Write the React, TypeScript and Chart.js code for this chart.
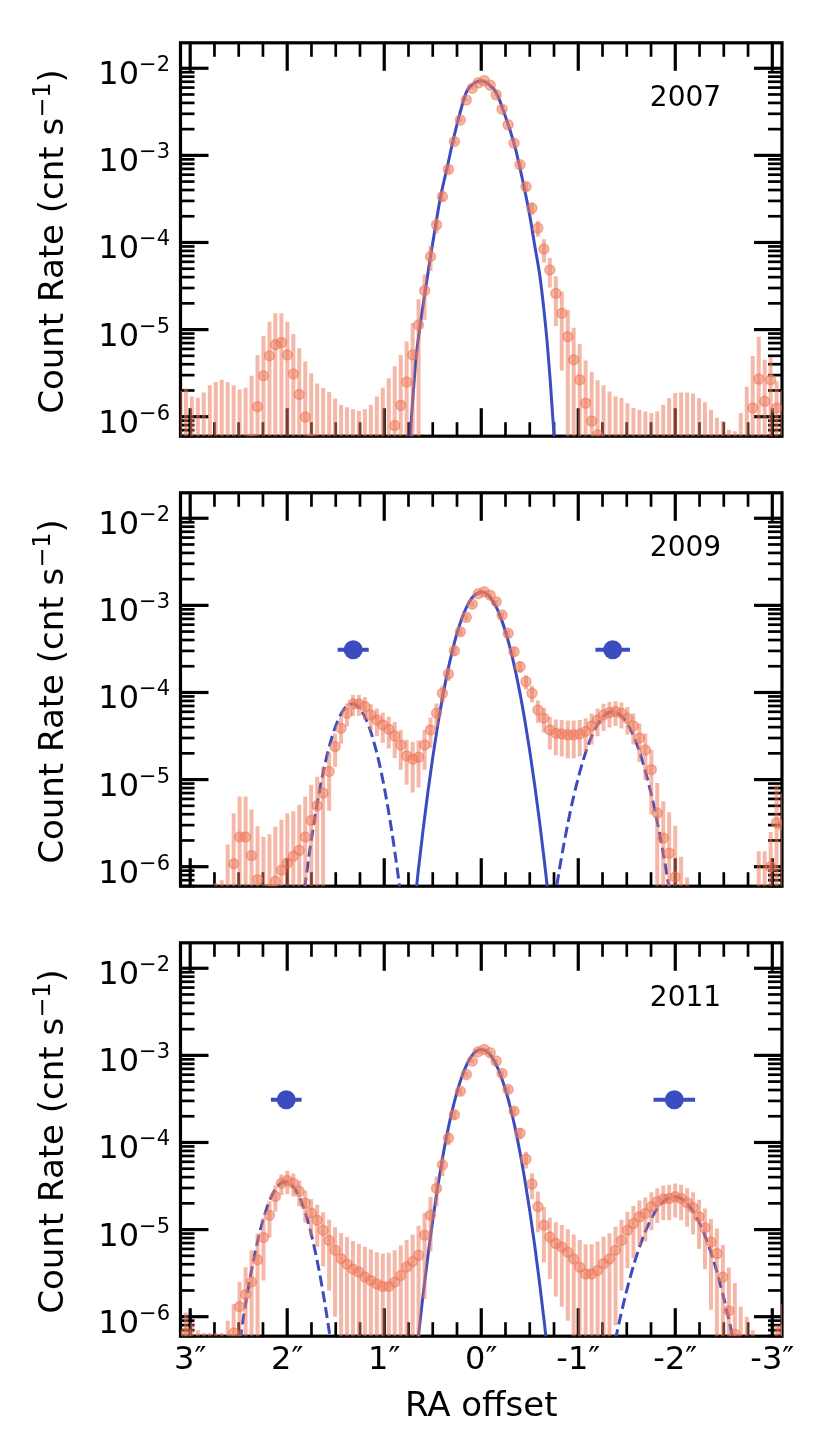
import React, { useEffect, useRef } from "react";
import { Chart, registerables } from "chart.js";

Chart.register(...registerables);

// bin centres of the radial profile (arcsec, RA offset)
const OFFSETS = [
  3.106, 3.044, 2.983, 2.921, 2.86, 2.798, 2.737, 2.675, 2.614, 2.552,
  2.491, 2.429, 2.368, 2.306, 2.245, 2.183, 2.122, 2.06, 1.999, 1.937,
  1.876, 1.814, 1.753, 1.691, 1.63, 1.568, 1.507, 1.445, 1.384, 1.322,
  1.261, 1.199, 1.138, 1.076, 1.015, 0.953, 0.892, 0.83, 0.769, 0.707,
  0.646, 0.584, 0.523, 0.461, 0.4, 0.338, 0.277, 0.215, 0.154, 0.092,
  0.031, -0.031, -0.092, -0.154, -0.215, -0.277, -0.338, -0.4, -0.461, -0.523,
  -0.584, -0.646, -0.707, -0.769, -0.83, -0.892, -0.953, -1.015, -1.076, -1.138,
  -1.199, -1.261, -1.322, -1.384, -1.445, -1.507, -1.568, -1.63, -1.691, -1.753,
  -1.814, -1.876, -1.937, -1.999, -2.06, -2.122, -2.183, -2.245, -2.306, -2.368,
  -2.429, -2.491, -2.552, -2.614, -2.675, -2.737, -2.798, -2.86, -2.921, -2.983,
  -3.044, -3.106,
];

// count rates (cnt/s) and 1-sigma errors per bin
const RATE_2007 = [
  0, 0, 0, 0, 0, 0, 0, 0, 0, 0,
  0, 0, 5.5e-7, 1.3e-6, 2.95e-6, 5.0e-6, 6.7e-6, 7.1e-6, 5.1e-6, 3.1e-6,
  1.8e-6, 9.9e-7, 5.5e-7, 0, 0, 0, 0, 0, 0, 0,
  0, 0, 0, 0, 0, 0, 7.9e-7, 1.35e-6, 2.5e-6, 5.1e-6,
  1.13e-5, 2.8e-5, 6.9e-5, 1.59e-4, 3.37e-4, 6.9e-4, 1.44e-3, 2.55e-3, 4.33e-3, 5.9e-3,
  6.8e-3, 7.2e-3, 6.4e-3, 4.95e-3, 3.39e-3, 2.24e-3, 1.38e-3, 7.8e-4, 4.37e-4, 2.47e-4,
  1.46e-4, 8.4e-5, 4.84e-5, 2.6e-5, 1.54e-5, 8.3e-6, 4.5e-6, 2.65e-6, 1.43e-6, 8.9e-7,
  6.2e-7, 0, 0, 0, 0, 0, 0, 0, 0, 0,
  0, 0, 0, 0, 0, 0, 0, 0, 0, 0,
  0, 0, 0, 0, 0, 0, 1.26e-6, 2.7e-6, 1.5e-6, 2.65e-6,
  1.26e-6, 0,
];
const ERR_2007 = [
  2.0e-6, 2.1e-6, 1.7e-6, 1.65e-6, 1.9e-6, 2.3e-6, 2.5e-6, 2.65e-6, 2.5e-6, 2.3e-6,
  2.05e-6, 2.15e-6, 2.4e-6, 3.8e-6, 5.5e-6, 7.3e-6, 8.7e-6, 8.3e-6, 7.2e-6, 5.8e-6,
  4.3e-6, 3.3e-6, 2.6e-6, 2.4e-6, 2.13e-6, 1.92e-6, 1.62e-6, 1.36e-6, 1.28e-6, 1.22e-6,
  1.17e-6, 1.22e-6, 1.37e-6, 1.71e-6, 2.15e-6, 2.77e-6, 3.0e-6, 3.75e-6, 4.8e-6, 6.8e-6,
  1.1e-5, 1.5e-5, 2.2e-5, 3.2e-5, 4.6e-5, 6.5e-5, 9e-5, 1.2e-4, 1.6e-4, 1.9e-4,
  2.0e-4, 2.1e-4, 2.0e-4, 1.75e-4, 1.45e-4, 1.2e-4, 9.5e-5, 7e-5, 5.3e-5, 4e-5,
  3e-5, 2.5e-5, 1.8e-5, 1.5e-5, 1.2e-5, 8.5e-6, 6e-6, 4.2e-6, 3e-6, 2.4e-6,
  2.0e-6, 2.3e-6, 1.95e-6, 1.71e-6, 1.64e-6, 1.43e-6, 1.26e-6, 1.2e-6, 1.15e-6, 1.1e-6,
  1.15e-6, 1.37e-6, 1.64e-6, 1.87e-6, 1.9e-6, 1.9e-6, 1.84e-6, 1.64e-6, 1.46e-6, 1.2e-6,
  9.7e-7, 8.9e-7, 7.1e-7, 6.8e-7, 1.1e-6, 2.2e-6, 3.7e-6, 5.6e-6, 3.0e-6, 2.2e-6,
  1.3e-6, 2.0e-6,
];

const RATE_2009 = [
  0, 0, 0, 0, 0, 0, 0, 0, 0, 1.08e-6,
  2.19e-6, 2.19e-6, 1.34e-6, 7.1e-7, 0, 5.5e-7, 6.8e-7, 9.1e-7, 1.1e-6, 1.32e-6,
  1.54e-6, 2.19e-6, 3.4e-6, 5.0e-6, 7.0e-6, 1.24e-5, 2.39e-5, 3.88e-5, 5.77e-5, 7.38e-5,
  7.38e-5, 6.89e-5, 5.52e-5, 4.84e-5, 4.24e-5, 3.78e-5, 3.17e-5, 2.5e-5, 1.87e-5, 1.71e-5,
  1.81e-5, 2.5e-5, 3.72e-5, 5.77e-5, 9.77e-5, 1.63e-4, 3.01e-4, 4.98e-4, 7.28e-4, 1.03e-3,
  1.36e-3, 1.43e-3, 1.31e-3, 1.1e-3, 7.73e-4, 4.77e-4, 2.94e-4, 1.98e-4, 1.33e-4, 9.8e-5,
  6.3e-5, 5.06e-5, 3.72e-5, 3.4e-5, 3.34e-5, 3.26e-5, 3.26e-5, 3.34e-5, 3.56e-5, 4.13e-5,
  4.84e-5, 5.52e-5, 5.87e-5, 6.03e-5, 5.77e-5, 5.06e-5, 4.13e-5, 2.99e-5, 2.19e-5, 1.3e-5,
  4.12e-6, 2.13e-6, 1.43e-6, 7.6e-7, 0, 0, 0, 0, 0, 0,
  0, 0, 0, 0, 0, 0, 0, 0, 0, 1.0e-6,
  3.2e-6, 3.0e-6,
];
const ERR_2009 = [
  4e-7, 4e-7, 4e-7, 5e-7, 4e-7, 5e-7, 6.5e-7, 7e-7, 1.8e-6, 3.0e-6,
  4.2e-6, 4.2e-6, 3.2e-6, 2.2e-6, 2.2e-6, 1.8e-6, 2.2e-6, 2.55e-6, 3.0e-6, 3.0e-6,
  3.6e-6, 4.2e-6, 5.3e-6, 5.8e-6, 7e-6, 8e-6, 1.0e-5, 1.3e-5, 1.7e-5, 2.0e-5,
  2.0e-5, 2.0e-5, 1.8e-5, 1.7e-5, 1.6e-5, 1.5e-5, 1.4e-5, 1.2e-5, 1.0e-5, 1.0e-5,
  1.0e-5, 1.2e-5, 1.4e-5, 1.7e-5, 2.2e-5, 2.8e-5, 3.8e-5, 4.8e-5, 5.8e-5, 7e-5,
  7.5e-5, 8e-5, 7.5e-5, 7e-5, 5.8e-5, 4.5e-5, 3.6e-5, 3e-5, 2.5e-5, 2.1e-5,
  1.8e-5, 1.6e-5, 1.5e-5, 1.5e-5, 1.5e-5, 1.5e-5, 1.5e-5, 1.5e-5, 1.5e-5, 1.6e-5,
  1.7e-5, 1.9e-5, 1.9e-5, 1.9e-5, 1.9e-5, 1.8e-5, 1.6e-5, 1.4e-5, 1.2e-5, 9e-6,
  5e-6, 3.5e-6, 2.8e-6, 2.2e-6, 1.3e-6, 7.5e-7, 4e-7, 4e-7, 4e-7, 4e-7,
  4e-7, 4e-7, 4e-7, 4e-7, 4e-7, 4e-7, 4e-7, 1.5e-6, 1.5e-6, 1.5e-6,
  5.5e-6, 4e-6,
];

const RATE_2011 = [
  0, 6.5e-7, 0, 0, 0, 0, 0, 0, 0, 6.5e-7,
  1.3e-6, 1.8e-6, 2.5e-6, 4.5e-6, 8.1e-6, 1.46e-5, 2.4e-5, 3.4e-5, 3.65e-5, 3.4e-5,
  2.75e-5, 2.0e-5, 1.55e-5, 1.28e-5, 9.8e-6, 7.5e-6, 5.8e-6, 4.63e-6, 4.0e-6, 3.5e-6,
  3.25e-6, 2.85e-6, 2.6e-6, 2.38e-6, 2.22e-6, 2.22e-6, 2.49e-6, 2.97e-6, 3.71e-6, 4.3e-6,
  5.06e-6, 8.6e-6, 1.46e-5, 2.97e-5, 5.52e-5, 1.12e-4, 2.08e-4, 3.87e-4, 6.04e-4, 8.6e-4,
  1.1e-3, 1.17e-3, 1.07e-3, 8.6e-4, 6.2e-4, 4.05e-4, 2.28e-4, 1.28e-4, 6.43e-5, 3.33e-5,
  1.83e-5, 1.12e-5, 8.2e-6, 6.9e-6, 6.3e-6, 5.5e-6, 4.6e-6, 3.7e-6, 3.1e-6, 3.1e-6,
  3.4e-6, 4.05e-6, 4.6e-6, 5.8e-6, 7.5e-6, 9.8e-6, 1.17e-5, 1.4e-5, 1.53e-5, 1.83e-5,
  2.09e-5, 2.24e-5, 2.28e-5, 2.38e-5, 2.28e-5, 2.03e-5, 1.78e-5, 1.4e-5, 1.05e-5, 7.2e-6,
  5.3e-6, 2.84e-6, 1.17e-6, 6.3e-7, 0, 0, 0, 0, 0, 0,
  0, 7e-7,
];
const ERR_2011 = [
  5e-7, 4.7e-7, 8.5e-7, 7e-7, 6.5e-7, 6.5e-7, 6.5e-7, 6.5e-7, 9e-7, 7.5e-7,
  1.2e-6, 1.9e-6, 3.3e-6, 4.5e-6, 5.5e-6, 6.5e-6, 8e-6, 9e-6, 1.1e-5, 1.0e-5,
  9e-6, 8e-6, 7e-6, 6.5e-6, 6e-6, 5.5e-6, 4.8e-6, 4.5e-6, 4.2e-6, 3.9e-6,
  3.6e-6, 3.5e-6, 3.3e-6, 3.1e-6, 3.1e-6, 3.2e-6, 3.3e-6, 3.6e-6, 3.9e-6, 4.4e-6,
  6e-6, 7e-6, 9e-6, 1.1e-5, 1.4e-5, 1.9e-5, 2.5e-5, 3.3e-5, 4.2e-5, 5e-5,
  5.5e-5, 6e-5, 5.5e-5, 5e-5, 4.2e-5, 3.3e-5, 2.5e-5, 1.9e-5, 1.4e-5, 1.1e-5,
  9e-6, 7e-6, 5.5e-6, 5.2e-6, 5e-6, 4.6e-6, 4.2e-6, 3.9e-6, 3.7e-6, 3.7e-6,
  3.9e-6, 4.2e-6, 4.5e-6, 5e-6, 5.5e-6, 6.2e-6, 7e-6, 7.5e-6, 8e-6, 8.5e-6,
  9e-6, 9.5e-6, 1e-5, 1e-5, 1e-5, 9.5e-6, 9e-6, 8e-6, 7e-6, 6e-6,
  5e-6, 3.8e-6, 2.5e-6, 1.8e-6, 1.3e-6, 1.0e-6, 7e-7, 5e-7, 5e-7, 5e-7,
  8e-7, 7e-7,
];

// model of the primary (solid)
const CORE_2007_X = [
  0.735, 0.725, 0.701, 0.674, 0.632, 0.581, 0.529, 0.478, 0.419, 0.357, 0.289, 0.22, 0.151, 0.075, 0,
  -0.075, -0.158, -0.261, -0.347, -0.433, -0.502, -0.553, -0.605, -0.646, -0.68, -0.708, -0.732, -0.749, -0.76,
];
const CORE_2007 = [
  4.5e-7, 7.7e-7, 1.85e-6, 4.5e-6, 1.08e-5, 2.61e-5, 6.3e-5, 1.39e-4, 3.37e-4, 6.81e-4, 1.5e-3, 3.04e-3, 5.4e-3, 6.7e-3, 7.2e-3,
  6.6e-3, 5.16e-3, 2.55e-3, 1.26e-3, 4.79e-4, 1.98e-4, 8.97e-5, 4.06e-5, 1.68e-5, 6.97e-6, 2.88e-6, 1.19e-6, 6.5e-7, 4e-7,
];
const CORE_X = [
  0.7, 0.65, 0.6, 0.55, 0.5, 0.45, 0.4, 0.35, 0.3, 0.25, 0.2, 0.15, 0.1, 0.05, 0,
  -0.05, -0.1, -0.15, -0.2, -0.25, -0.3, -0.35, -0.4, -0.45, -0.5, -0.55, -0.6, -0.65, -0.7,
];
const CORE_2009 = [
  2.7e-7, 8.8e-7, 2.62e-6, 7.2e-6, 1.8e-5, 4.12e-5, 8.67e-5, 1.67e-4, 2.95e-4, 4.78e-4, 7.08e-4, 9.6e-4, 1.2e-3, 1.36e-3, 1.42e-3,
  1.37e-3, 1.2e-3, 9.8e-4, 7.28e-4, 4.99e-4, 3.14e-4, 1.82e-4, 9.7e-5, 4.74e-5, 2.13e-5, 8.8e-6, 3.36e-6, 1.17e-6, 3.8e-7,
];
const CORE_2011 = [
  1.7e-7, 5.7e-7, 1.77e-6, 4.98e-6, 1.29e-5, 3.03e-5, 6.53e-5, 1.29e-4, 2.31e-4, 3.79e-4, 5.69e-4, 7.8e-4, 9.8e-4, 1.12e-3, 1.17e-3,
  1.12e-3, 9.9e-4, 7.98e-4, 5.92e-4, 4.03e-4, 2.52e-4, 1.45e-4, 7.62e-5, 3.68e-5, 1.64e-5, 6.7e-6, 2.5e-6, 8.6e-7, 2.7e-7,
];

// companion models (dashed)
const COMP_2009_E_X = [1.88, 1.83, 1.78, 1.73, 1.68, 1.63, 1.58, 1.53, 1.48, 1.43, 1.38, 1.33, 1.28, 1.23, 1.18, 1.13, 1.08, 1.03, 0.98, 0.93, 0.88, 0.83, 0.78];
const COMP_2009_E = [1.6e-7, 4.7e-7, 1.22e-6, 2.9e-6, 6.2e-6, 1.2e-5, 2.09e-5, 3.3e-5, 4.7e-5, 6.05e-5, 7.05e-5, 7.4e-5, 7.05e-5, 6.05e-5, 4.7e-5, 3.3e-5, 2.09e-5, 1.2e-5, 6.2e-6, 2.9e-6, 1.22e-6, 4.7e-7, 1.6e-7];
const COMP_2009_W_X = [
  -0.705, -0.755, -0.805, -0.855, -0.905, -0.955, -1.005, -1.055, -1.105, -1.155, -1.205, -1.255, -1.305, -1.355,
  -1.405, -1.455, -1.505, -1.555, -1.605, -1.655, -1.705, -1.755, -1.805, -1.855, -1.905, -1.955, -2.005,
];
const COMP_2009_W = [
  1.75e-7, 4.15e-7, 9.2e-7, 1.9e-6, 3.66e-6, 6.6e-6, 1.1e-5, 1.73e-5, 2.53e-5, 3.45e-5, 4.4e-5, 5.22e-5, 5.8e-5, 6.0e-5,
  5.8e-5, 5.22e-5, 4.4e-5, 3.45e-5, 2.53e-5, 1.73e-5, 1.1e-5, 6.6e-6, 3.66e-6, 1.9e-6, 9.2e-7, 4.15e-7, 1.75e-7,
];
const COMP_2011_E_X = [2.57, 2.52, 2.47, 2.42, 2.37, 2.32, 2.27, 2.22, 2.17, 2.12, 2.07, 2.02, 1.97, 1.92, 1.87, 1.82, 1.77, 1.72, 1.67, 1.62, 1.57, 1.52, 1.47];
const COMP_2011_E = [1.0e-7, 2.8e-7, 7.1e-7, 1.61e-6, 3.32e-6, 6.2e-6, 1.06e-5, 1.64e-5, 2.3e-5, 2.92e-5, 3.38e-5, 3.55e-5, 3.38e-5, 2.92e-5, 2.3e-5, 1.64e-5, 1.06e-5, 6.2e-6, 3.32e-6, 1.61e-6, 7.1e-7, 2.8e-7, 1.0e-7];
const COMP_2011_W_X = [
  -1.29, -1.34, -1.39, -1.44, -1.49, -1.54, -1.59, -1.64, -1.69, -1.74, -1.79, -1.84, -1.89, -1.94, -1.99,
  -2.04, -2.09, -2.14, -2.19, -2.24, -2.29, -2.34, -2.39, -2.44, -2.49, -2.54, -2.59, -2.64, -2.69,
];
const COMP_2011_W = [
  1.54e-7, 3.1e-7, 5.9e-7, 1.06e-6, 1.82e-6, 2.96e-6, 4.6e-6, 6.7e-6, 9.4e-6, 1.25e-5, 1.58e-5, 1.89e-5, 2.15e-5, 2.32e-5, 2.38e-5,
  2.32e-5, 2.15e-5, 1.89e-5, 1.58e-5, 1.25e-5, 9.4e-6, 6.7e-6, 4.6e-6, 2.96e-6, 1.82e-6, 1.06e-6, 5.9e-7, 3.1e-7, 1.54e-7,
];

// companion positions with x errors
const MARK_2009_X = [1.32, -1.355];
const MARK_2009_ERR = [0.16, 0.178];
const MARK_2011_X = [2.01, -1.99];
const MARK_2011_ERR = [0.158, 0.214];
const MARK_LEVEL = 3.1e-4;

const YEARS = ["2007", "2009", "2011"];
const X_TICKS = [3, 2, 1, 0, -1, -2, -3];
const X_TICK_LABELS = ["3″", "2″", "1″", "0″", "-1″", "-2″", "-3″"];
const Y_TICK_EXPONENTS = [-6, -5, -4, -3, -2];

const X_MIN = -3.1;
const X_MAX = 3.1;
const Y_MIN = 5.97e-7;
const Y_MAX = 1.96e-2;

const BLUE = "#3B4CC0";
const SALMON = "rgba(236, 118, 88, 0.52)";
const FONT = '"DejaVu Sans", sans-serif';

const PANEL_TOP = [0, 450, 900];
const PANEL_HEIGHT = [450, 450, 550];
const AREA_TOP = 42.8;
const AREA_HEIGHT = 393.4;

const RATES = [RATE_2007, RATE_2009, RATE_2011];
const ERRS = [ERR_2007, ERR_2009, ERR_2011];
const CORES: [number[], number[]][] = [
  [CORE_2007_X, CORE_2007],
  [CORE_X, CORE_2009],
  [CORE_X, CORE_2011],
];
const COMPS: [number[], number[]][][] = [
  [],
  [[COMP_2009_E_X, COMP_2009_E], [COMP_2009_W_X, COMP_2009_W]],
  [[COMP_2011_E_X, COMP_2011_E], [COMP_2011_W_X, COMP_2011_W]],
];
const MARKS: [number[], number[]][] = [
  [[], []],
  [MARK_2009_X, MARK_2009_ERR],
  [MARK_2011_X, MARK_2011_ERR],
];

const pts = (xs: number[], ys: number[]) => xs.map((x, k) => ({ x, y: ys[k] }));

function axesPlugin(panel: number) {
  return {
    id: "axes" + panel,
    beforeDatasetsDraw(chart: any) {
      const { ctx, chartArea: a } = chart;
      const xs = chart.scales.x;
      const ys = chart.scales.y;
      const seg = (x1: number, y1: number, x2: number, y2: number, w: number) => {
        ctx.lineWidth = w;
        ctx.beginPath();
        ctx.moveTo(x1, y1);
        ctx.lineTo(x2, y2);
        ctx.stroke();
      };
      ctx.save();
      ctx.strokeStyle = "#000";
      ctx.lineCap = "butt";
      // x ticks every 0.25", major every 1"
      for (let q = -12; q <= 12; q++) {
        const major = q % 4 === 0;
        const len = major ? 28 : 14;
        const w = major ? 3.2 : 2.7;
        const px = xs.getPixelForValue(q / 4);
        seg(px, a.top, px, a.top + len, w);
        seg(px, a.bottom, px, a.bottom - len, w);
      }
      // log ticks
      for (let e = -7; e <= -2; e++) {
        for (let m = 1; m <= 9; m++) {
          const v = m * Math.pow(10, e);
          if (v < Y_MIN || v > Y_MAX) continue;
          const major = m === 1;
          const len = major ? 28 : 14;
          const w = major ? 3.2 : 2.7;
          const py = ys.getPixelForValue(v);
          seg(a.left, py, a.left + len, py, w);
          seg(a.right, py, a.right - len, py, w);
        }
      }
      ctx.lineWidth = 3.2;
      ctx.strokeRect(a.left, a.top, a.right - a.left, a.bottom - a.top);
      ctx.restore();
    },
    afterDraw(chart: any) {
      const { ctx, chartArea: a } = chart;
      const xs = chart.scales.x;
      const ys = chart.scales.y;
      ctx.save();
      ctx.fillStyle = "#000";
      ctx.textBaseline = "alphabetic";
      ctx.textAlign = "left";

      // y tick labels 10^n
      Y_TICK_EXPONENTS.forEach((e) => {
        const py = ys.getPixelForValue(Math.pow(10, e));
        const sup = "\u2212" + Math.abs(e);
        ctx.font = `21px ${FONT}`;
        const ws = ctx.measureText(sup).width;
        ctx.font = `32px ${FONT}`;
        const wb = ctx.measureText("10").width;
        const right = 170;
        ctx.fillText("10", right - ws - wb, py + 16);
        ctx.font = `21px ${FONT}`;
        ctx.fillText(sup, right - ws, py + 3);
      });

      // y title
      ctx.save();
      ctx.translate(63, (a.top + a.bottom) / 2 + 2);
      ctx.rotate(-Math.PI / 2);
      const t1 = "Count Rate (cnt s";
      const t2 = "\u22121";
      const t3 = ")";
      ctx.font = `34px ${FONT}`;
      const w1 = ctx.measureText(t1).width;
      const w3 = ctx.measureText(t3).width;
      ctx.font = `24px ${FONT}`;
      const w2 = ctx.measureText(t2).width;
      let cx = -(w1 + w2 + w3) / 2;
      ctx.font = `34px ${FONT}`;
      ctx.fillText(t1, cx, 0);
      cx += w1;
      ctx.font = `24px ${FONT}`;
      ctx.fillText(t2, cx, -13);
      cx += w2;
      ctx.font = `34px ${FONT}`;
      ctx.fillText(t3, cx, 0);
      ctx.restore();

      // year
      ctx.font = `28px ${FONT}`;
      ctx.textAlign = "center";
      ctx.fillText(YEARS[panel], 685.5, a.top + 63);

      if (panel === 2) {
        ctx.font = `32px ${FONT}`;
        X_TICKS.forEach((v, k) => {
          ctx.fillText(X_TICK_LABELS[k], xs.getPixelForValue(v), a.bottom + 33);
        });
        ctx.font = `34px ${FONT}`;
        ctx.fillText("RA offset", (a.left + a.right) / 2, a.bottom + 80);
      }
      ctx.restore();
    },
  };
}

function buildConfig(panel: number): any {
  const rate = RATES[panel];
  const err = ERRS[panel];
  const datasets: any[] = [];

  const [cx, cy] = CORES[panel];
  datasets.push({
    type: "line",
    data: pts(cx, cy),
    borderColor: BLUE,
    borderWidth: 3,
    pointRadius: 0,
    cubicInterpolationMode: "monotone",
    fill: false,
    order: 3,
  });
  COMPS[panel].forEach(([xs, ys]) => {
    datasets.push({
      type: "line",
      data: pts(xs, ys),
      borderColor: BLUE,
      borderWidth: 3,
      borderDash: [11, 5],
      pointRadius: 0,
      cubicInterpolationMode: "monotone",
      fill: false,
      order: 3,
    });
  });

  datasets.push({
    type: "bar",
    data: OFFSETS.map((x, k) => ({
      x,
      y: [Math.max(rate[k] - err[k], 1e-9), rate[k] + err[k]],
    })),
    backgroundColor: SALMON,
    borderWidth: 0,
    barThickness: 4,
    inflateAmount: 0,
    order: 2,
  });

  datasets.push({
    type: "scatter",
    data: pts(OFFSETS, rate).filter((d) => d.y > 0),
    pointRadius: 5,
    pointBackgroundColor: SALMON,
    pointBorderColor: SALMON,
    pointBorderWidth: 1.5,
    order: 1,
  });

  const [mx, me] = MARKS[panel];
  mx.forEach((x, k) => {
    datasets.push({
      type: "line",
      data: [
        { x: x - me[k], y: MARK_LEVEL },
        { x: x + me[k], y: MARK_LEVEL },
      ],
      borderColor: BLUE,
      borderWidth: 4,
      pointRadius: 0,
      fill: false,
      order: 0,
    });
  });
  if (mx.length) {
    datasets.push({
      type: "scatter",
      data: mx.map((x) => ({ x, y: MARK_LEVEL })),
      pointRadius: 9.5,
      pointBackgroundColor: BLUE,
      pointBorderWidth: 0,
      order: 0,
    });
  }

  const height = PANEL_HEIGHT[panel];
  return {
    type: "scatter",
    data: { datasets },
    options: {
      animation: false,
      responsive: false,
      events: [],
      layout: {
        padding: {
          left: 180.5,
          right: 48,
          top: AREA_TOP,
          bottom: height - AREA_TOP - AREA_HEIGHT,
        },
      },
      scales: {
        x: {
          type: "linear",
          min: X_MIN,
          max: X_MAX,
          reverse: true,
          bounds: "data",
          offset: false,
          grid: { offset: false },
          display: false,
        },
        y: {
          type: "logarithmic",
          min: Y_MIN,
          max: Y_MAX,
          bounds: "data",
          offset: false,
          beginAtZero: false,
          display: false,
        },
      },
      plugins: { legend: { display: false }, tooltip: { enabled: false } },
    },
    plugins: [axesPlugin(panel)],
  };
}

const Panel: React.FC<{ panel: number }> = ({ panel }) => {
  const canvasRef = useRef<HTMLCanvasElement | null>(null);

  useEffect(() => {
    if (!canvasRef.current) return;
    const chart = new Chart(canvasRef.current, buildConfig(panel));
    return () => chart.destroy();
  }, [panel]);

  return (
    <canvas
      ref={canvasRef}
      width={830}
      height={PANEL_HEIGHT[panel]}
      style={{ position: "absolute", left: 0, top: PANEL_TOP[panel], display: "block" }}
    />
  );
};

export default function App() {
  return (
    <div
      style={{
        position: "absolute",
        left: 0,
        top: 0,
        width: 830,
        height: 1450,
        overflow: "hidden",
        background: "#fff",
      }}
    >
      <Panel panel={0} />
      <Panel panel={1} />
      <Panel panel={2} />
    </div>
  );
}
